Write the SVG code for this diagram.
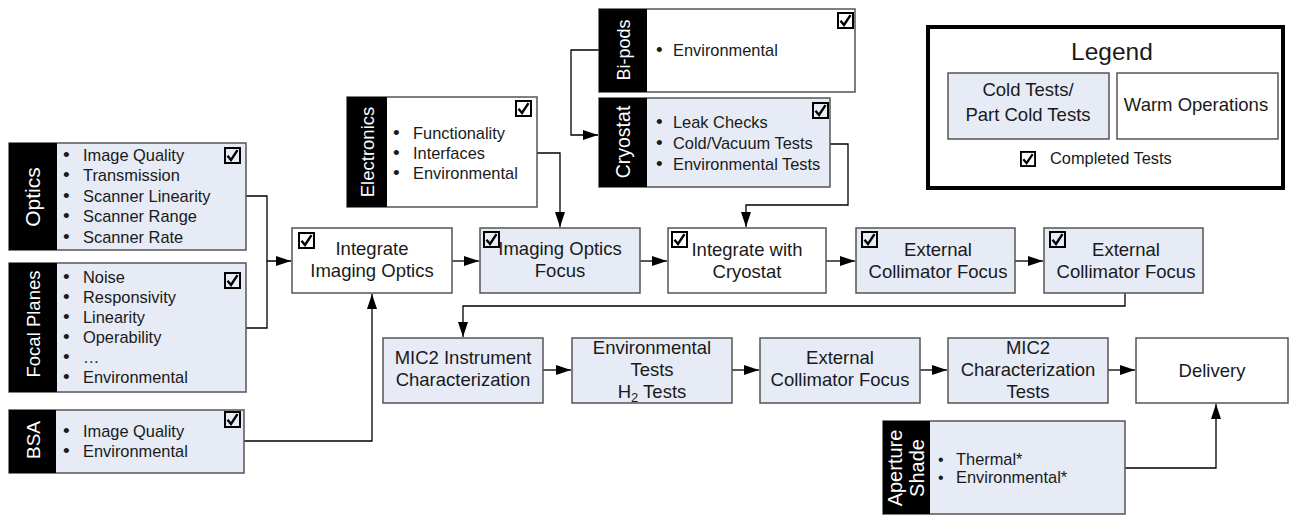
<svg xmlns="http://www.w3.org/2000/svg" width="1291" height="516" viewBox="0 0 1291 516">
<style>
.blue{fill:#e6ebf6;stroke:#555;stroke-width:1.5}
.white{fill:#fff;stroke:#555;stroke-width:1.5}
.bar{fill:#000}
text{font-family:"Liberation Sans",Arial,sans-serif;fill:#1a1a1a}
.lbl{fill:#fff;text-anchor:middle}
.li{font-size:16.4px}
.bu{font-size:19px}
.bs{font-size:16px}
.bt{font-size:18.5px;text-anchor:middle}
.conn{fill:none;stroke:#000;stroke-width:1.3}
</style>
<defs>
<symbol id="chk" viewBox="0 0 17 17" overflow="visible">
<rect x="1" y="1" width="15" height="15" fill="none" stroke="#000" stroke-width="2"/>
<path d="M3.5 8.8 L7 13 L13.5 3.2" fill="none" stroke="#000" stroke-width="2.4" stroke-linejoin="miter"/>
</symbol>
<marker id="ah" markerUnits="userSpaceOnUse" markerWidth="15" markerHeight="10" refX="15" refY="5" orient="auto">
<path d="M0,0 L15,5 L0,10 z" fill="#000"/>
</marker>
</defs>

<g id="connectors">
<path class="conn" d="M246,196 H267 V261 H291" marker-end="url(#ah)"/>
<path class="conn" d="M246,328 H267 V261"/>
<path class="conn" d="M244,441 H372 V294" marker-end="url(#ah)"/>
<path class="conn" d="M452,261 H479" marker-end="url(#ah)"/>
<path class="conn" d="M537,153 H560 V227" marker-end="url(#ah)"/>
<path class="conn" d="M599,50 H571 V135 H598" marker-end="url(#ah)"/>
<path class="conn" d="M830,144 H848 V205 H746 V227" marker-end="url(#ah)"/>
<path class="conn" d="M640,261 H667" marker-end="url(#ah)"/>
<path class="conn" d="M826,261 H855" marker-end="url(#ah)"/>
<path class="conn" d="M1015,261 H1043" marker-end="url(#ah)"/>
<path class="conn" d="M1125,293 V306 H463 V337" marker-end="url(#ah)"/>
<path class="conn" d="M543,370 H571" marker-end="url(#ah)"/>
<path class="conn" d="M732,370 H759" marker-end="url(#ah)"/>
<path class="conn" d="M920,370 H947" marker-end="url(#ah)"/>
<path class="conn" d="M1108,370 H1135" marker-end="url(#ah)"/>
<path class="conn" d="M1125,468 H1216 V404" marker-end="url(#ah)"/>
</g>

<g id="optics">
<rect class="blue" x="9" y="143" width="237" height="107"/>
<rect class="bar" x="9" y="143" width="48" height="107"/>
<text class="lbl" font-size="21" transform="translate(33,197) rotate(-90)" y="7">Optics</text>
<use href="#chk" x="224" y="147" width="17" height="17"/>
<g class="li">
<text class="bu" x="63" y="161">•</text><text x="83" y="161">Image Quality</text>
<text class="bu" x="63" y="181">•</text><text x="83" y="181">Transmission</text>
<text class="bu" x="63" y="202">•</text><text x="83" y="202">Scanner Linearity</text>
<text class="bu" x="63" y="222">•</text><text x="83" y="222">Scanner Range</text>
<text class="bu" x="63" y="243">•</text><text x="83" y="243">Scanner Rate</text>
</g>
</g>

<g id="focal-planes">
<rect class="blue" x="9" y="263" width="237" height="129"/>
<rect class="bar" x="9" y="263" width="48" height="129"/>
<text class="lbl" font-size="18.5" transform="translate(33,324) rotate(-90)" y="6.5">Focal Planes</text>
<use href="#chk" x="224" y="272" width="17" height="17"/>
<g class="li">
<text class="bu" x="63" y="283">•</text><text x="83" y="283">Noise</text>
<text class="bu" x="63" y="303">•</text><text x="83" y="303">Responsivity</text>
<text class="bu" x="63" y="323">•</text><text x="83" y="323">Linearity</text>
<text class="bu" x="63" y="343">•</text><text x="83" y="343">Operability</text>
<text class="bu" x="63" y="363">•</text><text x="83" y="363">…</text>
<text class="bu" x="63" y="383">•</text><text x="83" y="383">Environmental</text>
</g>
</g>

<g id="bsa">
<rect class="blue" x="9" y="410" width="235" height="63"/>
<rect class="bar" x="9" y="410" width="47" height="63"/>
<text class="lbl" font-size="19" transform="translate(33,440) rotate(-90)" y="7">BSA</text>
<use href="#chk" x="224" y="411" width="17" height="17"/>
<g class="li">
<text class="bu" x="63" y="437">•</text><text x="83" y="437">Image Quality</text>
<text class="bu" x="63" y="457">•</text><text x="83" y="457">Environmental</text>
</g>
</g>

<g id="electronics">
<rect class="white" x="347" y="97" width="190" height="110"/>
<rect class="bar" x="347" y="97" width="40" height="110"/>
<text class="lbl" font-size="18.5" transform="translate(367,152) rotate(-90)" y="6.5">Electronics</text>
<use href="#chk" x="515" y="100" width="17" height="17"/>
<g class="li">
<text class="bu" x="393" y="139">•</text><text x="413" y="139">Functionality</text>
<text class="bu" x="393" y="159">•</text><text x="413" y="159">Interfaces</text>
<text class="bu" x="393" y="179">•</text><text x="413" y="179">Environmental</text>
</g>
</g>

<g id="bi-pods">
<rect class="white" x="599" y="9" width="256" height="83"/>
<rect class="bar" x="599" y="9" width="48" height="83"/>
<text class="lbl" font-size="18" transform="translate(623,50) rotate(-90)" y="6.5">Bi-pods</text>
<use href="#chk" x="837" y="12" width="17" height="17"/>
<g class="li">
<text class="bu" x="656" y="56">•</text><text x="673" y="56">Environmental</text>
</g>
</g>

<g id="cryostat">
<rect class="blue" x="599" y="98" width="231" height="89"/>
<rect class="bar" x="599" y="98" width="48" height="89"/>
<text class="lbl" font-size="19.5" transform="translate(623,142) rotate(-90)" y="7">Cryostat</text>
<use href="#chk" x="812" y="102" width="17" height="17"/>
<g class="li">
<text class="bu" x="656" y="128">•</text><text x="673" y="128">Leak Checks</text>
<text class="bu" x="656" y="149">•</text><text x="673" y="149">Cold/Vacuum Tests</text>
<text class="bu" x="656" y="170">•</text><text x="673" y="170">Environmental Tests</text>
</g>
</g>

<g id="legend">
<rect x="928" y="27" width="355" height="161" fill="#fff" stroke="#000" stroke-width="4"/>
<text x="1112" y="60" font-size="24.5" text-anchor="middle">Legend</text>
<rect class="blue" x="948" y="73" width="161" height="66"/>
<text class="bt" x="1028" y="96" font-size="16.7">Cold Tests/</text>
<text class="bt" x="1028" y="121" font-size="16.7">Part Cold Tests</text>
<rect class="white" x="1117" y="73" width="161" height="66"/>
<text class="bt" x="1196" y="111" font-size="16.7">Warm Operations</text>
<use href="#chk" x="1020" y="151" width="16" height="16"/>
<text x="1050" y="164" font-size="16.4">Completed Tests</text>
</g>

<g id="integrate-imaging-optics">
<rect class="white" x="292" y="228" width="160" height="65"/>
<use href="#chk" x="298" y="232" width="17" height="17"/>
<text class="bt" x="372" y="255">Integrate</text>
<text class="bt" x="372" y="277">Imaging Optics</text>
</g>

<g id="imaging-optics-focus">
<rect class="blue" x="480" y="228" width="160" height="65"/>
<use href="#chk" x="483" y="231" width="17" height="17"/>
<text class="bt" x="560" y="255">Imaging Optics</text>
<text class="bt" x="560" y="277">Focus</text>
</g>

<g id="integrate-with-cryostat">
<rect class="white" x="668" y="228" width="158" height="65"/>
<use href="#chk" x="671" y="231" width="17" height="17"/>
<text class="bt" x="747" y="256">Integrate with</text>
<text class="bt" x="747" y="278">Cryostat</text>
</g>

<g id="external-collimator-focus-1">
<rect class="blue" x="856" y="228" width="159" height="65"/>
<use href="#chk" x="861" y="231" width="17" height="17"/>
<text class="bt" x="938" y="256">External</text>
<text class="bt" x="938" y="278">Collimator Focus</text>
</g>

<g id="external-collimator-focus-2">
<rect class="blue" x="1044" y="228" width="159" height="65"/>
<use href="#chk" x="1049" y="231" width="17" height="17"/>
<text class="bt" x="1126" y="256">External</text>
<text class="bt" x="1126" y="278">Collimator Focus</text>
</g>

<g id="mic2-instrument-characterization">
<rect class="blue" x="383" y="338" width="160" height="65"/>
<text class="bt" x="463" y="364">MIC2 Instrument</text>
<text class="bt" x="463" y="386">Characterization</text>
</g>

<g id="environmental-tests">
<rect class="blue" x="572" y="338" width="160" height="65"/>
<text class="bt" x="652" y="354">Environmental</text>
<text class="bt" x="652" y="376">Tests</text>
<text class="bt" x="652" y="398">H<tspan font-size="13" dy="4">2</tspan><tspan dy="-4"> Tests</tspan></text>
</g>

<g id="external-collimator-focus-3">
<rect class="blue" x="760" y="338" width="160" height="65"/>
<text class="bt" x="840" y="364">External</text>
<text class="bt" x="840" y="386">Collimator Focus</text>
</g>

<g id="mic2-characterization-tests">
<rect class="blue" x="948" y="338" width="160" height="65"/>
<text class="bt" x="1028" y="354">MIC2</text>
<text class="bt" x="1028" y="376">Characterization</text>
<text class="bt" x="1028" y="398">Tests</text>
</g>

<g id="delivery">
<rect class="white" x="1136" y="338" width="152" height="65"/>
<text class="bt" x="1212" y="377">Delivery</text>
</g>

<g id="aperture-shade">
<rect class="blue" x="883" y="421" width="242" height="93"/>
<rect class="bar" x="883" y="421" width="47" height="93"/>
<text class="lbl" font-size="20" transform="translate(895,468) rotate(-90)" y="7">Aperture</text>
<text class="lbl" font-size="20" transform="translate(917,468) rotate(-90)" y="7">Shade</text>
<g class="li">
<text class="bs" x="938" y="465">•</text><text x="956" y="465">Thermal*</text>
<text class="bs" x="938" y="483">•</text><text x="956" y="483">Environmental*</text>
</g>
</g>
</svg>
